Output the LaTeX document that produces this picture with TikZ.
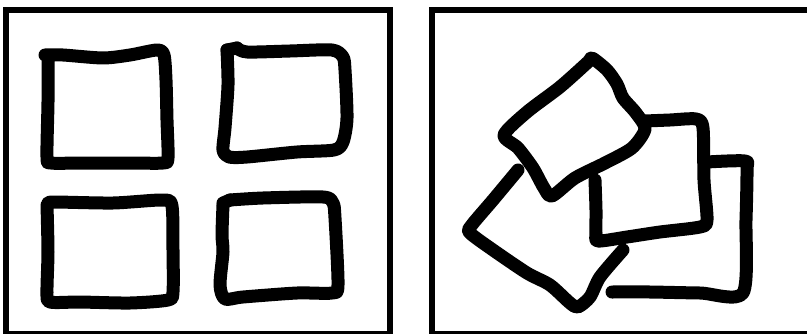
\documentclass[tikz,border=0pt]{standalone}
\usepackage{tikz}
\begin{document}
\begin{tikzpicture}[
  x=0.03cm, y=-0.03cm,
  frame/.style={draw=black, line width=0.165cm},
  pen/.style={draw=black, line width=0.39cm, line cap=round, line join=round},
  hand/.style={smooth, tension=0.45},
]
  \useasboundingbox (0,0) rectangle (807,334);
  \clip (0,0) rectangle (807,334);
  \fill[white] (0,0) rectangle (807,334);

  \draw[frame] (6,10) rectangle (390,334);
  \draw[frame] (432,10) rectangle (812,334);

  \draw[pen] plot[hand] coordinates {(45,55) (63,55) (103,58) (130,55) (157,50) (164,55)
    (166,80) (167,120) (168,158) (163,163) (130,163) (80,163) (51,163) (47,157) (48,102) (48,58)};
  \draw[pen] (227,50) -- (237,48);
  \draw[pen] plot[hand] coordinates {(237,48) (247,52) (290,51) (332,50) (343,57) (345,70)
    (347,118) (343,142) (334,150) (297,152) (247,157) (229,157) (223,150) (225,128) (228,85) (227,50)};
  \draw[pen] plot[hand] coordinates {(48,203) (55,202) (113,203) (163,200) (172,206) (173,250)
    (173,292) (168,300) (130,303) (80,302) (50,302) (47,292) (48,252) (47,205)};
  \draw[pen] (223,203) -- (230,200);
  \draw[pen] plot[hand] coordinates {(230,200) (263,198) (323,197) (333,203) (335,218) (338,285)
    (332,293) (297,293) (243,297) (225,299) (220,285) (223,252) (222,235) (223,205)};

  \draw[pen] plot[hand] coordinates {(707,162) (745,161) (747,170) (746,220) (743,293)
    (700,293) (650,292) (612,292)};
  \draw[pen] plot[hand] coordinates {(645,121) (670,120) (696,119) (703,128) (704,180)
    (707,220) (700,227) (660,232) (627,237) (598,241) (596,233) (596,210) (595,180)};
  \draw[pen] plot[smooth cycle, tension=0.45] coordinates {(592,58) (607,70) (617,84) (623,98)
    (636,113) (645,129) (632,148) (605,163) (575,178) (552,196) (544,188) (533,168) (518,148)
    (504,135) (527,112) (560,87) (588,62)};
  \draw[pen] plot[hand] coordinates {(518,170) (493,200) (471,226) (470,233) (493,250)
    (527,273) (550,285) (570,303) (578,307) (590,297) (600,277) (623,250)};
\end{tikzpicture}
\end{document}
